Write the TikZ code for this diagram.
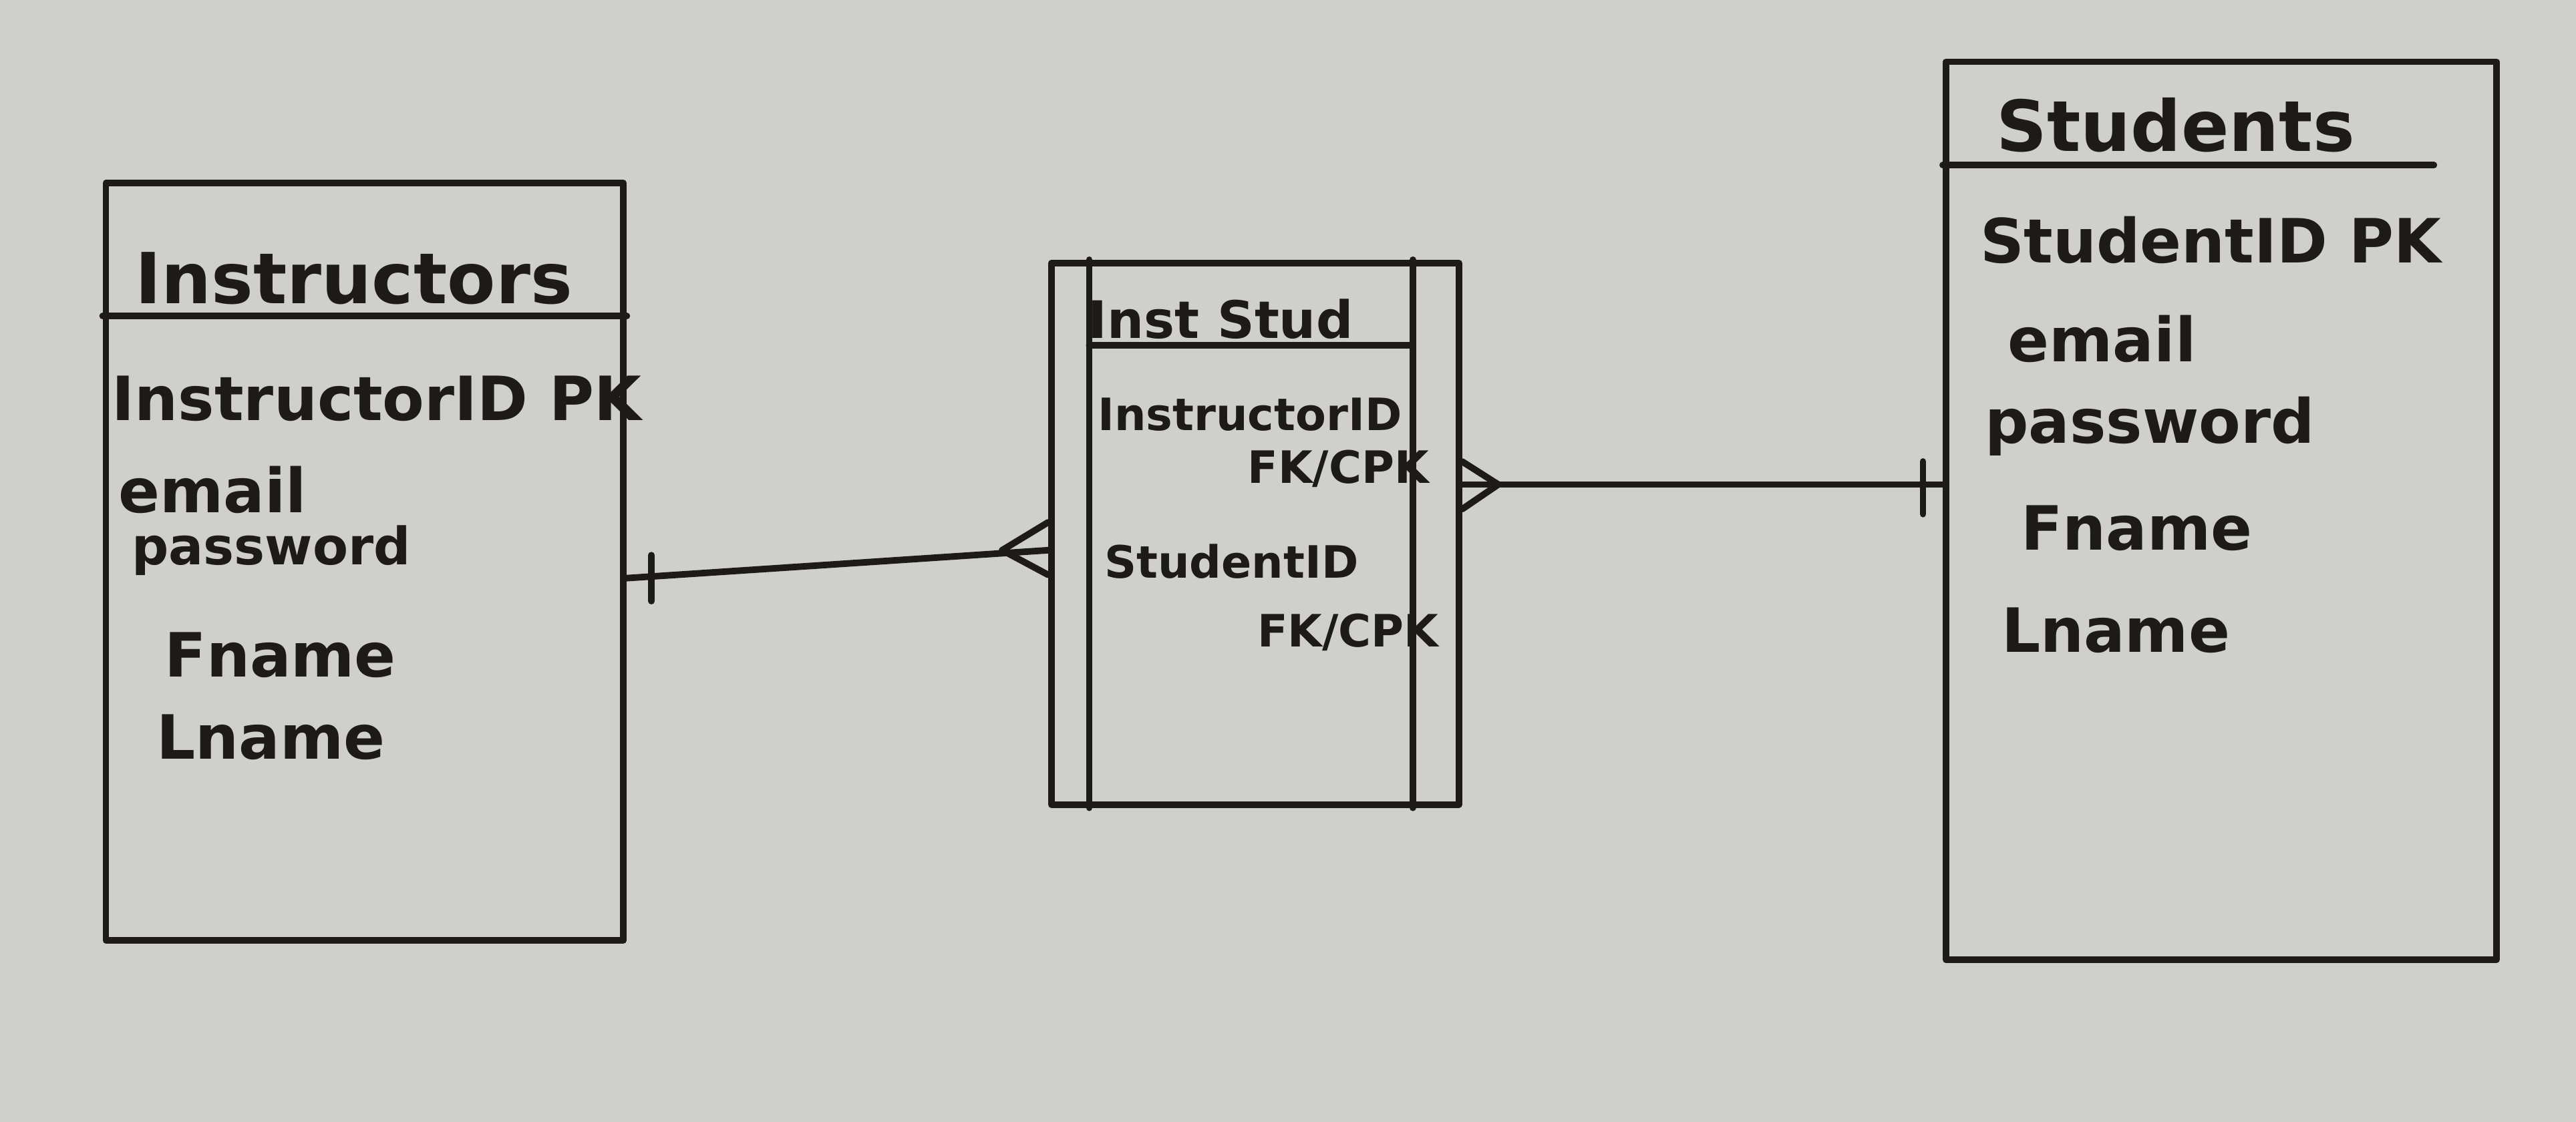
\documentclass[tikz,border=0pt]{standalone}
\usepackage{fontspec}
\setmainfont{DejaVu Sans}
\usetikzlibrary{calc,positioning}
\definecolor{board}{RGB}{207,207,205}
\definecolor{marker}{RGB}{30,26,24}

\begin{document}
\begin{tikzpicture}[x=0.02459cm, y=-0.02459cm,
    ink/.style={draw=marker, line width=2.8pt, line cap=round, line join=round},
    entity/.style={ink, rectangle, inner sep=0pt},
    attr/.style={anchor=base west, inner sep=0pt, text=marker, font=\bfseries\fontsize{26}{32}\selectfont},
    title/.style={attr, font=\bfseries\fontsize{30}{36}\selectfont},
    small/.style={attr, font=\bfseries\fontsize{19}{24}\selectfont},
    smalltitle/.style={attr, font=\bfseries\fontsize{22}{28}\selectfont}]
    % whiteboard
    \fill[board] (0,0) rectangle (1568,683);
    \useasboundingbox (0,0) rectangle (1568,683);

    % Entities
    \node[entity, minimum width=7.75cm, minimum height=11.34cm] (instr) at (222,342) {};
    \node[entity, minimum width=6.10cm, minimum height=8.11cm] (link) at (764,325) {};
    \node[entity, minimum width=8.24cm, minimum height=13.45cm] (stud) at (1352,311) {};

    % Header lines
    \draw[ink] ($(instr.north west)+(0,83)$) -- ($(instr.north east)+(0,83)$);
    \draw[ink] ($(stud.north west)+(0,65)$) -- ($(stud.north east)+(-40,65)$);
    \draw[ink] ($(link.north west)+(25,52)$) -- ($(link.north east)+(-30,52)$);

    % Double sides of the link table
    \draw[ink] ($(link.north west)+(25,0)$) -- ($(link.south west)+(25,0)$);
    \draw[ink] ($(link.north east)+(-30,0)$) -- ($(link.south east)+(-30,0)$);

    % Instructors
    \node[title] (instrT) at (82,185) {Instructors};
    \node[attr] (instrA) at (68,256) {InstructorID PK};
    \node[attr] (instrB) at (72,312) {email};
    \node[attr, font=\bfseries\fontsize{22}{28}\selectfont] (instrC) at (80,344) {password};
    \node[attr] (instrD) at (100,412) {Fname};
    \node[attr] (instrE) at (95,462) {Lname};

    % Inst Stud
    \node[smalltitle] (linkT) at (662,206) {Inst Stud};
    \node[small] (linkA) at (668,262) {InstructorID};
    \node[small, anchor=base east] (linkB) at (870,294) {FK/CPK};
    \node[small] (linkC) at (672,352) {StudentID};
    \node[small, anchor=base east] (linkD) at (876,394) {FK/CPK};

    % Students
    \node[title] (studT) at (1215,92) {Students};
    \node[attr] (studA) at (1205,160) {StudentID PK};
    \node[attr] (studB) at (1222,220) {email};
    \node[attr] (studC) at (1208,270) {password};
    \node[attr] (studD) at (1230,335) {Fname};
    \node[attr] (studE) at (1218,397) {Lname};

    % Instructors -- Inst Stud (one to many)
    \coordinate (l1) at ($(instr.east)+(0,10)$);
    \coordinate (l2) at ($(link.west)+(0,10)$);
    \coordinate (l3) at ($(l2)+(-28,0)$);
    \draw[ink] (l1) -- (l2);
    \draw[ink] ($(l1)+(15,-14)$) -- ($(l1)+(15,14)$);
    \draw[ink] ($(l2)+(0,-17)$) -- (l3) -- ($(l2)+(0,15)$);

    % Inst Stud -- Students (many to one)
    \coordinate (r1) at ($(link.east)+(0,-30)$);
    \coordinate (r2) at (stud.west |- r1);
    \coordinate (r3) at ($(r1)+(22,0)$);
    \draw[ink] (r1) -- (r2);
    \draw[ink] ($(r1)+(0,-14)$) -- (r3) -- ($(r1)+(0,15)$);
    \draw[ink] ($(r2)+(-12,-14)$) -- ($(r2)+(-12,18)$);
\end{tikzpicture}
\end{document}
